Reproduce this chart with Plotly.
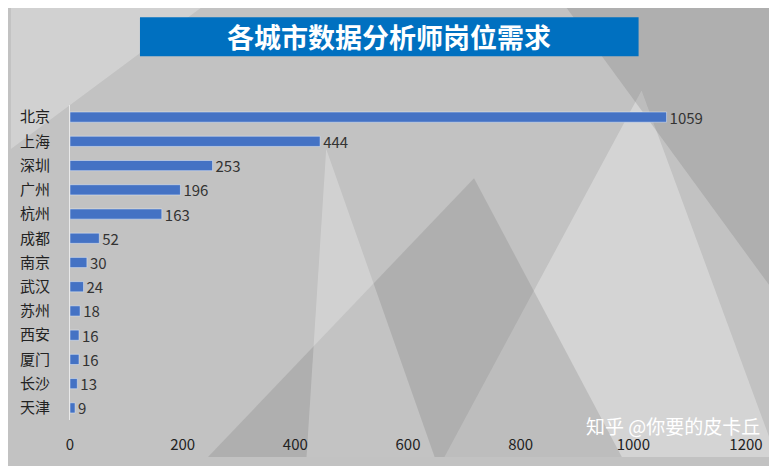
import plotly.graph_objects as go

cities = ["北京","上海","深圳","广州","杭州","成都","南京","武汉","苏州","西安","厦门","长沙","天津"]
values = [1059,444,253,196,163,52,30,24,18,16,16,13,9]
title = "各城市数据分析师岗位需求"

W, H = 769, 458
L, R, T, B = 52, 31, 97, 38
pw, ph = W - L - R, H - T - B

def px(x):  # reference pixel x -> paper x
    return (x - 8 - L) / pw
def py(y):  # reference pixel y -> paper y
    return 1 - (y - 8 - T) / ph

fig = go.Figure(go.Bar(
    y=cities, x=values, orientation="h", width=0.42,
    marker_color="#4472C4", text=values, textposition="outside", constraintext="none",
    textfont=dict(size=15, color="#333333"), cliponaxis=False))

tris = [
    ([(440,466),(640,90),(777,466)], "rgba(255,255,255,0.30)"),
    ([(200,466),(470,180),(620,466)], "rgba(110,110,110,0.22)"),
    ([(0,150),(200,0),(0,0)], "rgba(255,255,255,0.25)"),
    ([(560,0),(777,0),(777,300)], "rgba(90,90,90,0.18)"),
    ([(300,466),(320,150),(430,466)], "rgba(255,255,255,0.25)"),
]
shapes = []
for pts, col in tris:
    path = "M " + " L ".join(f"{px(x):.4f} {py(y):.4f}" for x, y in pts) + " Z"
    shapes.append(dict(type="path", path=path, fillcolor=col, line_width=0,
                       xref="paper", yref="paper", layer="below"))
shapes.append(dict(type="rect", xref="paper", yref="paper", x0=px(131), x1=px(637), y0=py(55), y1=py(15),
                   fillcolor="#0070C0", line_width=0, layer="below"))

fig.update_layout(
    width=W, height=H,
    margin=dict(l=L, r=R, t=T, b=B),
    paper_bgcolor="#c2c2c2", plot_bgcolor="rgba(0,0,0,0)",
    font=dict(family="Noto Sans CJK SC", color="#222222", size=14),
    showlegend=False, shapes=shapes,
    xaxis=dict(range=[0,1200], tickvals=[0,200,400,600,800,1000,1200], showgrid=False,
               zeroline=False, ticklabelstandoff=14, tickfont=dict(size=15, color="#222222")),
    yaxis=dict(autorange="reversed", showline=True, linecolor="#e8e8e8", ticks="",
               ticklabelstandoff=16, tickfont=dict(size=15, color="#222222")),
    annotations=[
        dict(text="<b>" + title + "</b>", xref="paper", yref="paper", x=px(384), y=py(35), showarrow=False,
             font=dict(size=27, color="white", family="Noto Sans CJK SC"), xanchor="center", yanchor="middle"),
        dict(text="知乎 @你要的皮卡丘", xref="paper", yref="paper", x=px(762), y=py(434), showarrow=False,
             xanchor="right", yanchor="middle", font=dict(size=19, color="white")),
    ],
)
fig.write_html("out.html")
